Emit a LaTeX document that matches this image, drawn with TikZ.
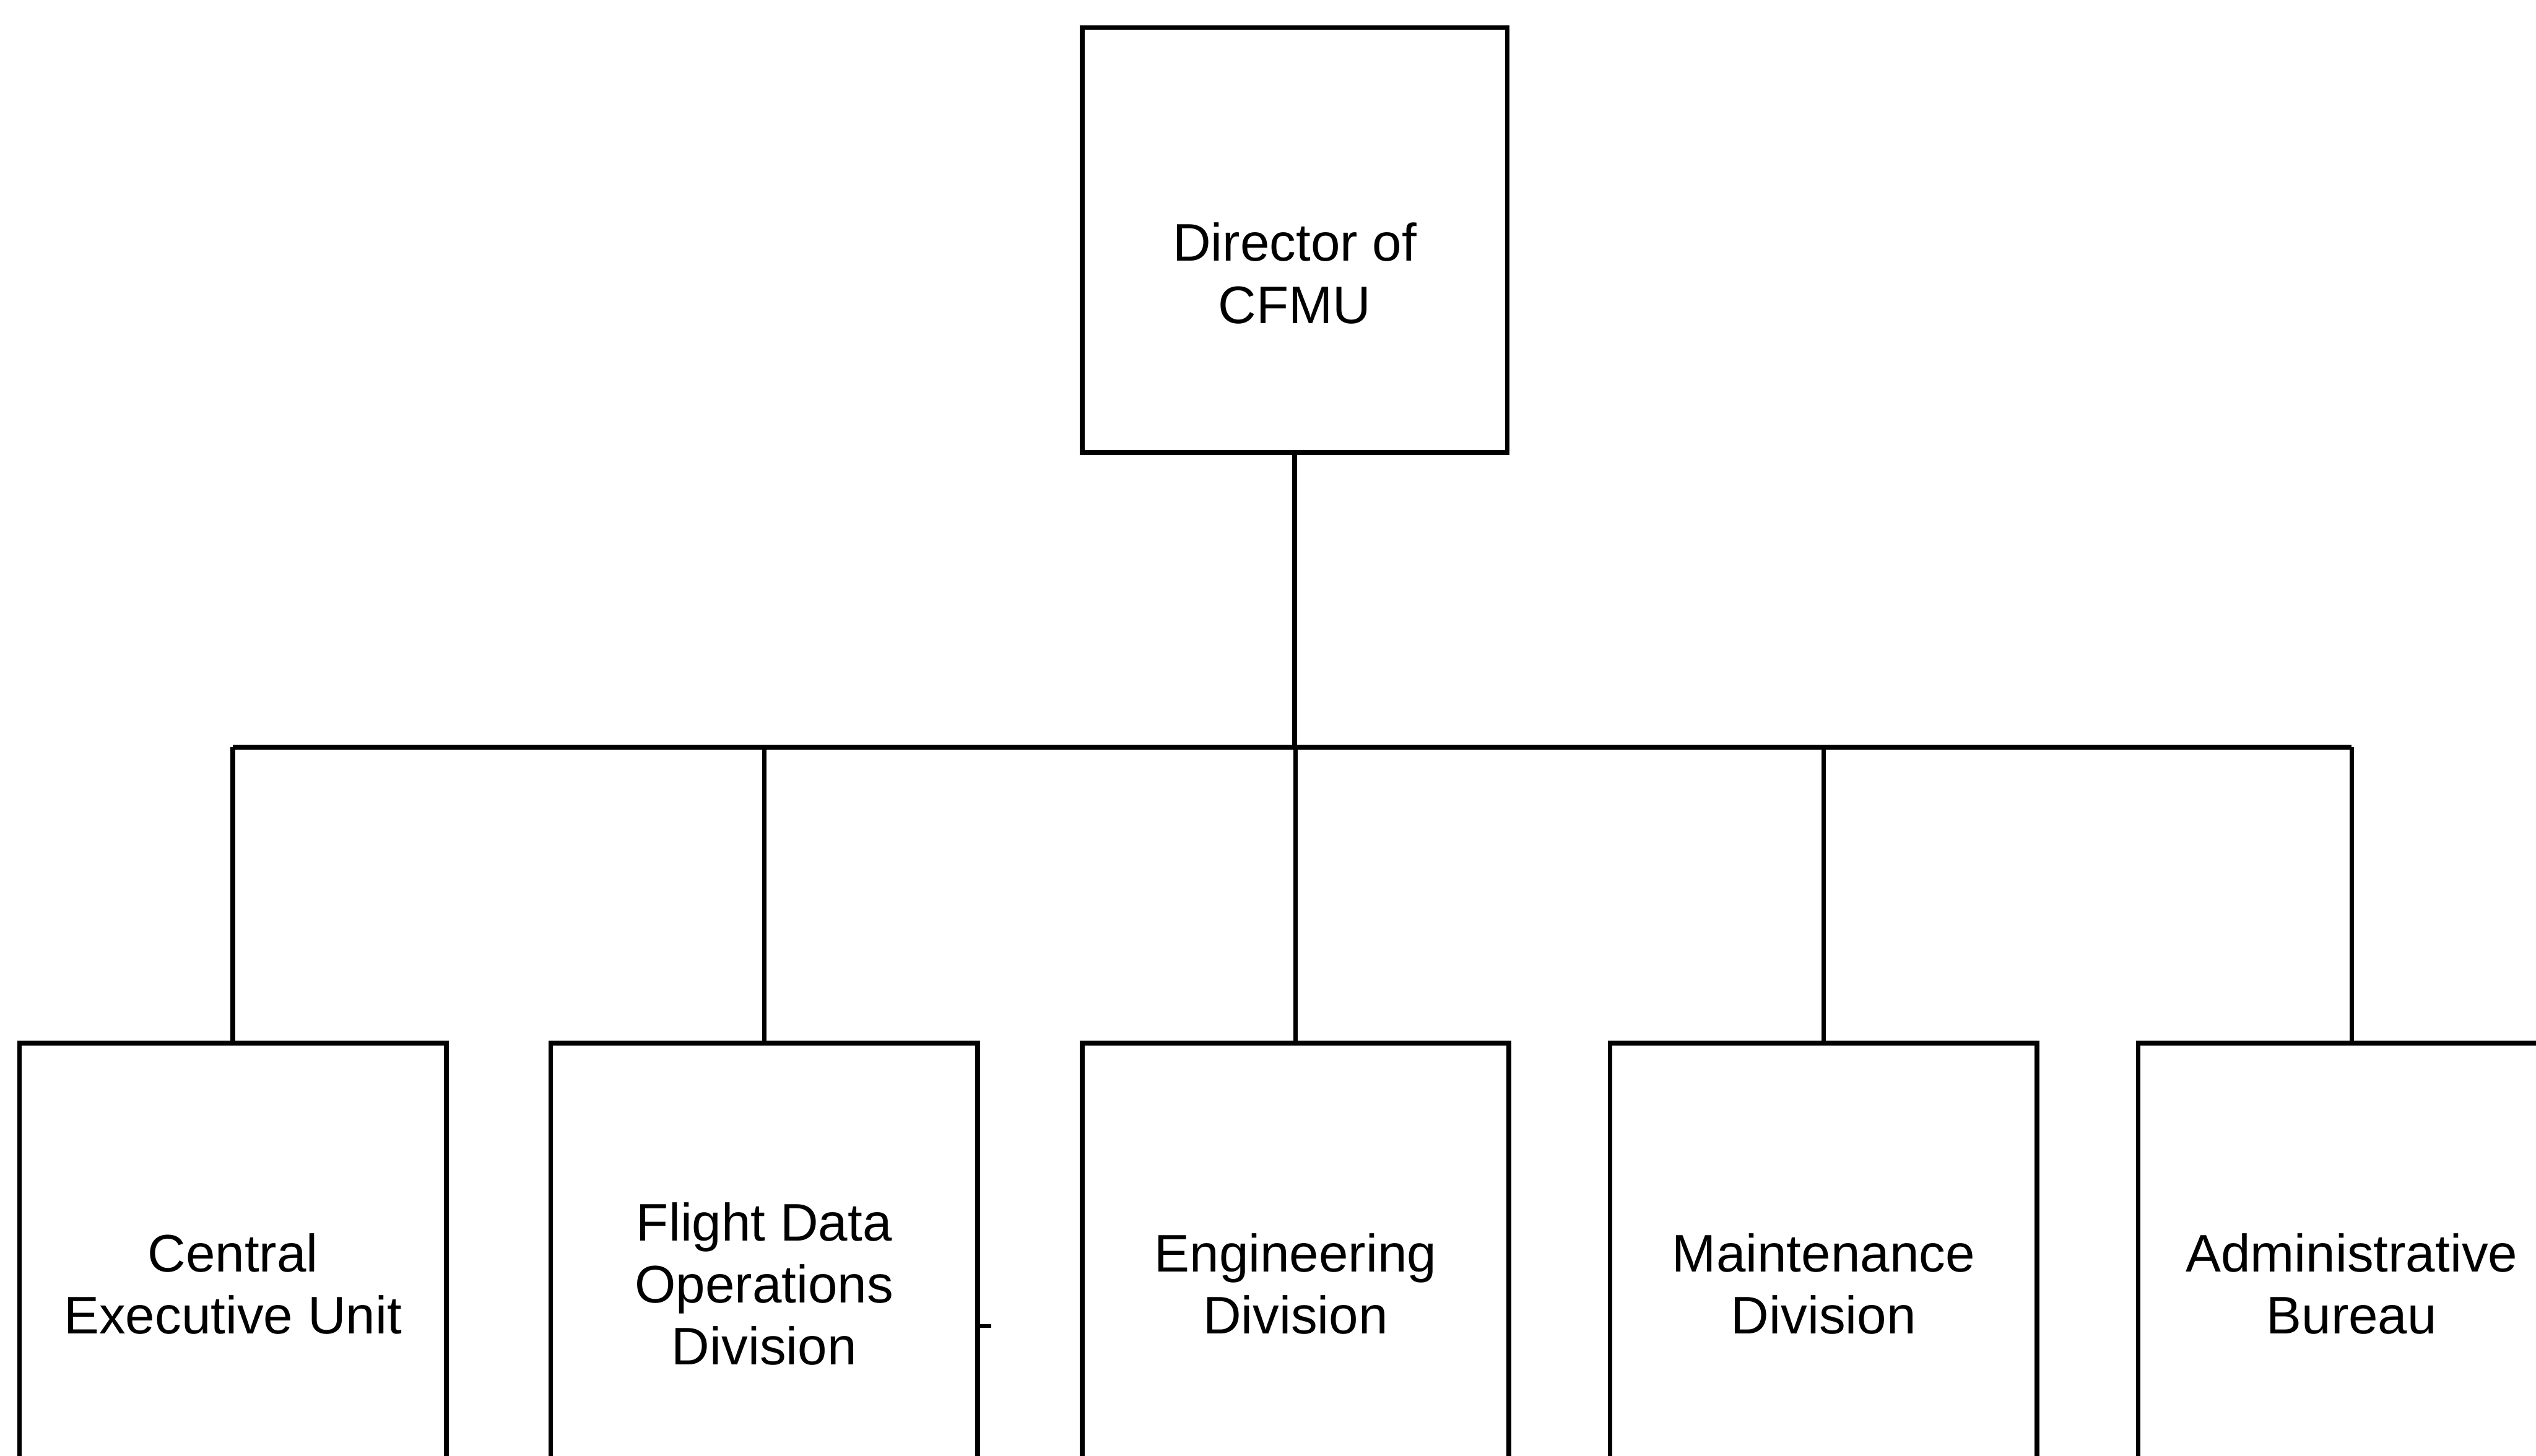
\documentclass[tikz,border=0pt]{standalone}
\usepackage{fontspec}
\setmainfont{Liberation Sans}
\begin{document}
\begin{tikzpicture}[x=0.02cm,y=-0.02cm,
  topbox/.style={draw=black, line width=1.7pt, rectangle, inner sep=0pt,
    minimum width=5.26cm, minimum height=5.26cm},
  unitbox/.style={draw=black, line width=1.7pt, rectangle, inner sep=0pt,
    minimum width=5.28cm, minimum height=5.96cm,
    align=center, font=\fontsize{18.6}{21.8}\selectfont},
  link/.style={draw=black, line width=1.6pt},
  lbl/.style={align=center, font=\fontsize{18.6}{21.8}\selectfont, inner sep=0pt}]
\useasboundingbox (0,0) rectangle (1568,900);
\clip (0,0) rectangle (1568,900);

% head of the unit
\node[topbox] (dir) at (800.5,148.5) {};
\node[lbl] (dirtext) at (800.5,169) {Director of\\CFMU};

% divisions (boxes run past the lower edge)
\node[unitbox] (ceu) at (144,794)  {Central\\Executive Unit};
\node[unitbox] (fdo) at (472.5,794) {Flight Data\\Operations\\Division};
\node[unitbox] (eng) at (801,794)  {Engineering\\Division};
\node[unitbox] (mnt) at (1127.5,794) {Maintenance\\Division};
\node[unitbox] (adm) at (1454,794) {Administrative\\Bureau};

% distribution bus
\coordinate (bus) at (800.5,462);
\draw[link] (dir.south) -- (bus);
\draw[link] (ceu.north |- bus) -- (adm.north |- bus);
\foreach \u in {ceu,fdo,eng,mnt,adm}
  \draw[link] (\u.north |- bus) -- (\u.north);

% small stub on the right side of the flight data box
\draw[line width=1.2pt] ([yshift=-0.52cm]fdo.east) -- ++(7,0);
\end{tikzpicture}
\end{document}
